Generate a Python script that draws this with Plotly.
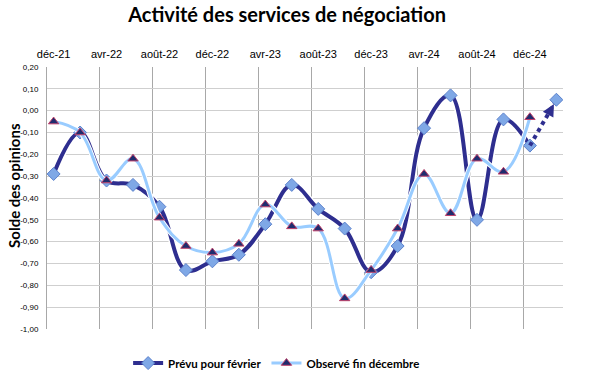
import plotly.graph_objects as go

# ---- data ----
months = ["déc-21", "janv-22", "févr-22", "mars-22", "avr-22", "mai-22", "juin-22", "juil-22",
          "août-22", "sept-22", "oct-22", "nov-22", "déc-22", "janv-23", "févr-23", "mars-23",
          "avr-23", "mai-23", "juin-23", "juil-23", "août-23", "sept-23", "oct-23", "nov-23",
          "déc-23", "janv-24", "févr-24", "mars-24", "avr-24", "mai-24", "juin-24", "juil-24",
          "août-24", "sept-24", "oct-24", "nov-24", "déc-24", "janv-25", "févr-25"]
points = ["déc-21", "févr-22", "avr-22", "juin-22", "août-22", "oct-22", "déc-22", "févr-23",
          "avr-23", "juin-23", "août-23", "oct-23", "déc-23", "févr-24", "avr-24", "juin-24",
          "août-24", "oct-24", "déc-24"]
prevu = [-0.29, -0.10, -0.32, -0.34, -0.44, -0.73, -0.69, -0.66, -0.52, -0.34,
         -0.45, -0.54, -0.74, -0.62, -0.08, 0.07, -0.50, -0.04, -0.16]
observe = [-0.05, -0.10, -0.32, -0.22, -0.49, -0.62, -0.65, -0.61, -0.43, -0.53,
           -0.54, -0.86, -0.73, -0.54, -0.29, -0.47, -0.22, -0.28, -0.03]
prevision_mois = "févr-25"
prevision_val = 0.05
y_ticks = [0.20, 0.10, 0.00, -0.10, -0.20, -0.30, -0.40, -0.50, -0.60, -0.70, -0.80, -0.90, -1.00]

DARK = "#2E2E8F"
LIGHT = "#99CCFF"
SMOOTH = 1.1

fig = go.Figure()

# prévu: white halo + line
fig.add_trace(go.Scatter(x=points, y=prevu, mode="lines",
                         line=dict(color="white", width=7, shape="spline", smoothing=SMOOTH),
                         showlegend=False, hoverinfo="skip"))
fig.add_trace(go.Scatter(x=points, y=prevu, mode="lines+markers", name="<b>Prévu pour février</b>",
                         line=dict(color=DARK, width=4, shape="spline", smoothing=SMOOTH),
                         marker=dict(symbol="diamond", size=10, color="#7FA8E6",
                                     line=dict(color="#5C82CC", width=1))))
# dotted forecast segment
fig.add_trace(go.Scatter(x=[points[-1], prevision_mois], y=[prevu[-1], prevision_val],
                         mode="lines", line=dict(color=DARK, width=4, dash="dot"),
                         showlegend=False, hoverinfo="skip"))
# observé: white halo + line
fig.add_trace(go.Scatter(x=points, y=observe, mode="lines",
                         line=dict(color="white", width=5, shape="spline", smoothing=SMOOTH),
                         showlegend=False, hoverinfo="skip"))
fig.add_trace(go.Scatter(x=points, y=observe, mode="lines+markers", name="<b>Observé fin décembre</b>",
                         line=dict(color=LIGHT, width=3, shape="spline", smoothing=SMOOTH),
                         marker=dict(symbol="triangle-up", size=9, color="#1F2C6E",
                                     line=dict(color="#C0406A", width=1))))
# forecast end marker
fig.add_trace(go.Scatter(x=[prevision_mois], y=[prevision_val], mode="markers",
                         marker=dict(symbol="diamond", size=10, color="#7FA8E6",
                                     line=dict(color="#5C82CC", width=1)),
                         showlegend=False, hoverinfo="skip"))

# arrow head pointing to forecast point
fig.add_annotation(x=prevision_mois, y=prevision_val, xref="x", yref="y",
                   ax=-5, ay=9, showarrow=True, arrowhead=2, arrowsize=0.8,
                   arrowwidth=3, arrowcolor=DARK, standoff=5, text="")

fig.add_annotation(text="<b>Solde des opinions</b>", xref="paper", yref="paper",
                   x=-0.064, y=0.55, xanchor="center", yanchor="middle",
                   textangle=-90, showarrow=False,
                   font=dict(family="Lato", size=15, color="black"))

fig.update_layout(
    width=592, height=389,
    margin=dict(l=47, r=29, t=67, b=56),
    paper_bgcolor="white", plot_bgcolor="white",
    title=dict(text="<b>Activité des services de négociation</b>", x=0.485, xref="container",
               y=0.962, yanchor="middle", xanchor="center",
               font=dict(family="Lato", size=20, color="black")),
    xaxis=dict(type="category", categoryorder="array", categoryarray=months,
               range=[-0.5, len(months) - 0.5], side="top",
               tickmode="linear", tick0=0, dtick=4, tickson="boundaries", tickangle=0,
               ticks="", showgrid=True, gridcolor="#A8A8A8", gridwidth=1,
               tickfont=dict(family="Liberation Sans", size=11, color="black"),
               ticklabelstandoff=6, zeroline=False, showline=False),
    yaxis=dict(range=[-1.0, 0.2], tickmode="array", tickvals=y_ticks,
               ticktext=[f"{v:.2f}".replace(".", ",").replace("-0,00", "0,00") for v in y_ticks],
               showgrid=True, gridcolor="#CFCFCF", gridwidth=1, zeroline=False,
               showline=True, linecolor="#A8A8A8", linewidth=1, ticks="",
               tickfont=dict(family="Liberation Sans", size=8, color="black"),
               ticklabelstandoff=6),
    legend=dict(orientation="h", x=0.445, y=-0.13, xanchor="center", yanchor="middle",
                font=dict(family="Lato", size=11.5, color="black"), itemwidth=30,
                traceorder="normal"),
    showlegend=True,
)

fig.write_html("out.html", post_script="document.body.style.margin='0';",
               config={"displayModeBar": False})
